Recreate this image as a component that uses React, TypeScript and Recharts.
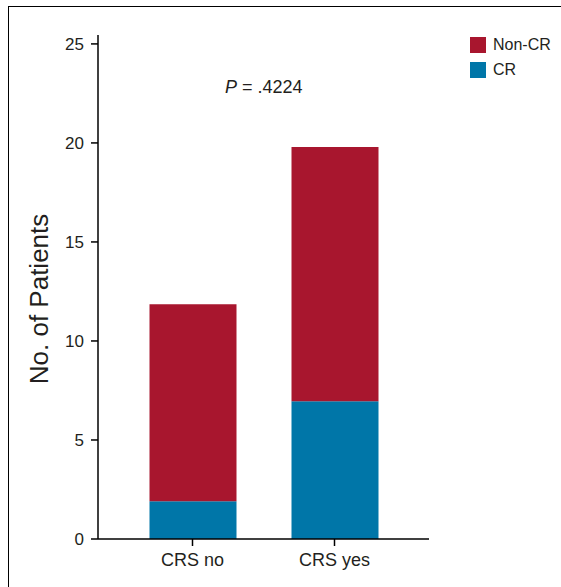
import React from "react";
import { BarChart, Bar, XAxis, YAxis } from "recharts";

const groups = ["CRS no", "CRS yes"];
const crCounts = [1.9, 6.95];
const nonCrCounts = [9.95, 12.85];
const yTicks = [0, 5, 10, 15, 20, 25];

const data = groups.map((g, i) => ({ name: g, cr: crCounts[i], nonCr: nonCrCounts[i] }));

const RED = "#A8162E";
const BLUE = "#0076A8";
const FONT = "Arial, 'Liberation Sans', sans-serif";

const legendItems = [
  { label: "Non-CR", color: RED },
  { label: "CR", color: BLUE },
];

const YLabel = () => (
  <text
    x={39}
    y={299}
    transform="rotate(-90, 39, 299)"
    textAnchor="middle"
    dominantBaseline="central"
    fontFamily={FONT}
    fontSize={26}
    fill="#231F20"
  >
    No. of Patients
  </text>
);

const App = () => {
  return (
    <div style={{ position: "absolute", left: 0, top: 0, width: 561, height: 587, background: "#fff" }}>
      <div
        style={{
          position: "absolute",
          left: 8,
          top: 6,
          width: 553,
          height: 581,
          borderLeft: "1.5px solid #000",
          borderTop: "1.5px solid #000",
        }}
      />
      <BarChart
        width={561}
        height={587}
        data={data}
        margin={{ top: 35, right: 132, bottom: 0, left: 8 }}
        style={{ position: "absolute", left: 0, top: 0 }}
      >
        <XAxis
          dataKey="name"
          height={48}
          padding={{ left: 23.5, right: 23.5 }}
          tickSize={7}
          tickMargin={7}
          axisLine={{ stroke: "#000", strokeWidth: 1.5 }}
          tickLine={{ stroke: "#000", strokeWidth: 1.5 }}
          tick={{ fill: "#231F20", fontSize: 18, fontFamily: FONT }}
        />
        <YAxis
          width={90}
          domain={[0, 25.45]}
          ticks={yTicks}
          allowDataOverflow
          tickSize={7}
          tickMargin={7}
          axisLine={{ stroke: "#000", strokeWidth: 1.5 }}
          tickLine={{ stroke: "#000", strokeWidth: 1.5 }}
          tick={{ fill: "#231F20", fontSize: 17, fontFamily: FONT }}
          label={<YLabel />}
        />
        <Bar dataKey="cr" stackId="a" fill={BLUE} barSize={87} isAnimationActive={false} />
        <Bar dataKey="nonCr" stackId="a" fill={RED} barSize={87} isAnimationActive={false} />
        <text x={225} y={93} fontFamily={FONT} fontSize={18} fill="#231F20">
          <tspan fontStyle="italic">P</tspan>
          <tspan> = .4224</tspan>
        </text>
      </BarChart>
      <div
        style={{
          position: "absolute",
          left: 470,
          top: 32,
          fontFamily: FONT,
          fontSize: 16,
          color: "#231F20",
        }}
      >
        {legendItems.map((it) => (
          <div key={it.label} style={{ display: "flex", alignItems: "center", height: 25 }}>
            <span style={{ width: 16, height: 16, background: it.color, display: "inline-block", marginRight: 7 }} />
            <span>{it.label}</span>
          </div>
        ))}
      </div>
    </div>
  );
};

export default App;
